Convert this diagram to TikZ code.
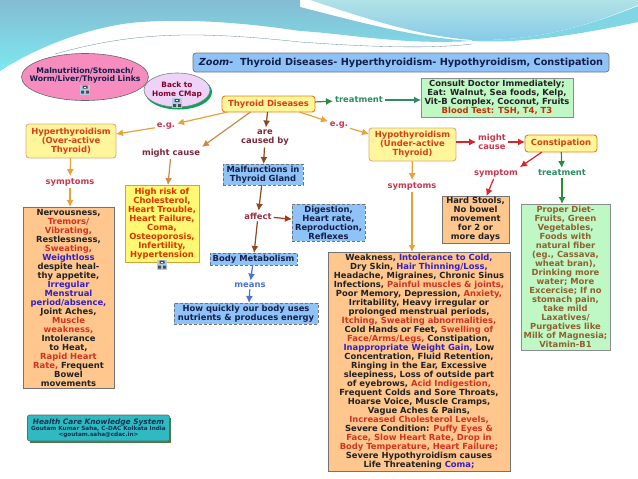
\documentclass[tikz,border=0pt]{standalone}
\usepackage{xcolor}
\usepackage{fontspec}
\setmainfont{DejaVu Sans}
\usetikzlibrary{positioning, shapes.geometric, arrows.meta}
\definecolor{bandTop}{HTML}{84BCD3}
\definecolor{bandLow}{HTML}{7DE8F0}
\definecolor{lensTop}{HTML}{B0E2E6}
\definecolor{lensLow}{HTML}{86CAE8}
\definecolor{skyFill}{HTML}{8FC3F7}
\definecolor{orangeFill}{HTML}{FFC68E}
\definecolor{greenFill}{HTML}{BFF8C4}
\definecolor{yellowFill}{HTML}{FFF59A}
\definecolor{pinkFill}{HTML}{F78DBE}
\definecolor{homeFill}{HTML}{EDD3F7}
\definecolor{tealFill}{HTML}{2FB9C0}
\definecolor{iconFill}{HTML}{B4CBE6}
\definecolor{arrowOrange}{HTML}{E9A23B}
\definecolor{arrowTan}{HTML}{CC8A4A}
\definecolor{arrowBrown}{HTML}{8C4A22}
\definecolor{arrowRed}{HTML}{D8242C}
\definecolor{arrowGreen}{HTML}{2E8B3C}
\definecolor{arrowBlue}{HTML}{4A70DC}
\definecolor{labelRed}{HTML}{C63A50}
\definecolor{labelPlum}{HTML}{7A2A3C}
\definecolor{labelGreen}{HTML}{2E8B62}
\definecolor{textRed}{HTML}{D0341F}
\definecolor{textBlue}{HTML}{3420C4}
\definecolor{textInk}{HTML}{222222}
\definecolor{textNavy}{HTML}{14204A}
\newcommand{\hot}[1]{\textcolor{textRed}{#1}}
\newcommand{\cool}[1]{\textcolor{textBlue}{#1}}
\tikzset{
    block/.style={
        draw, inner sep = 0pt, outer sep = 0pt,
        align = center,
        font = \fontsize{8.4}{9}\selectfont\bfseries
    },
    listbox/.style = {block, fill = orangeFill, draw = black!55, line width = 0.8pt, text = textInk},
    curebox/.style = {block, fill = greenFill, draw = black!45, line width = 0.8pt},
    ideabox/.style = {block, fill = skyFill, draw = black!55, densely dashed, line width = 0.5pt, text = textNavy},
    diseasebox/.style = {block, rounded corners = 3pt, fill = yellowFill, line width = 0.9pt, text = textRed!85!orange},
    linkword/.style = {font = \fontsize{8.4}{9.5}\selectfont\bfseries, align = center, inner sep = 1pt, outer sep = 1pt},
    line/.style = {-{Latex[length=7pt,width=7pt]}, line width = 1.2pt},
    iconbox/.pic = {
        \fill[iconFill] (-5,-5) rectangle (5,5);
        \fill[black!70] (-2.5,-4) rectangle (2.5,-1) (-4,1) rectangle (-1,4) (1,1) rectangle (4,4);
        \fill[white] (-1,-3) rectangle (1,-2);
    }
}
\begin{document}
\begin{tikzpicture}[x=1pt, y=-1pt]
\useasboundingbox (0,0) rectangle (638,479);

% Slide background
\shade[top color = bandTop, bottom color = bandLow] (0,0) -- (300,0) -- (300,7) .. controls (370,25) and (420,38) .. (472,41)
    .. controls (400,45) and (350,34) .. (300,31) .. controls (240,22) and (180,18) .. (130,23)
    .. controls (90,28) and (40,45) .. (0,71) -- cycle;
\shade[top color = lensTop, bottom color = lensLow] (310,0) -- (638,0) -- (638,5) .. controls (590,25) and (540,41) .. (472,40)
    .. controls (420,36) and (370,20) .. (310,0) -- cycle;
\fill[bandLow!60!bandTop] (472,40) .. controls (540,41) and (590,25) .. (638,6) -- (638,22) .. controls (590,32) and (530,44) .. (472,41) -- cycle;
\draw[bandTop!70!black, line width = 0.3pt] (55,54) .. controls (130,33) and (190,30) .. (300,42) .. controls (370,47) and (430,49) .. (472,44);

% Title and link ellipses
\node[block, rounded corners = 3pt, fill = skyFill, draw = black!55, line width = 0.7pt, minimum width = 416pt, minimum height = 19pt,
    font = \fontsize{9.7}{11}\selectfont\bfseries, text = textNavy] (title) at (401,62.5) {\textit{Zoom-} \ Thyroid Diseases- Hyperthyroidism- Hypothyroidism, Constipation};
\node[block, ellipse, fill = pinkFill, draw = black!60, line width = 0.6pt, minimum width = 127pt, minimum height = 47pt] (malnutrition) at (85,77) {};
\node[block, font = \fontsize{7.7}{8}\selectfont\bfseries, text = textNavy, draw = none] (malnutritionText) at (85,75.5) {Malnutrition/Stomach/\\Worm/Liver/Thyroid Links};
\fill[teal!70!green] (178.5,92) ellipse (33.5pt and 17.5pt);
\node[block, ellipse, fill = homeFill, draw = black!50, line width = 0.6pt, minimum width = 66pt, minimum height = 34pt] (home) at (177,90) {};
\node[block, font = \fontsize{7.4}{9}\selectfont\bfseries, text = purple!70!black, draw = none] (homeText) at (177,89.5) {Back to\\Home CMap};
\pic at (85,89.5) {iconbox};
\pic at (177,103) {iconbox};

% Blocks
\node[diseasebox, draw = orange!60!brown, minimum width = 93pt, minimum height = 16pt] (thyroid) at (268.5,104) {Thyroid Diseases};
\node[diseasebox, draw = arrowTan!70, minimum width = 90pt, minimum height = 34pt] (hyper) at (71,141) {Hyperthyroidism\\(Over-active\\Thyroid)};
\node[diseasebox, draw = arrowTan!70, minimum width = 87pt, minimum height = 33pt] (hypo) at (412.5,144.5) {Hypothyroidism\\(Under-active\\Thyroid)};
\node[diseasebox, draw = orange!60!brown, minimum width = 72pt, minimum height = 17pt] (constipation) at (561,143.5) {Constipation};
\node[curebox, minimum width = 152pt, minimum height = 39pt, text = textInk] (consult) at (497,97.5) {Consult Doctor Immediately;\\Eat: Walnut, Sea foods, Kelp,\\Vit-B Complex, Coconut, Fruits\\\textcolor{orange!45!red!80!black}{Blood Test: TSH, T4, T3}};
\node[listbox, minimum width = 91pt, minimum height = 181pt] (hyperList) at (68.5,297.5) {Nervousness,\\\hot{Tremors/}\\\hot{Vibrating,}\\Restlessness,\\\hot{Sweating,}\\\cool{Weightloss}\\despite heal-\\thy appetite,\\\cool{Irregular}\\\cool{Menstrual}\\\cool{period/absence,}\\Joint Aches,\\\hot{Muscle}\\\hot{weakness,}\\Intolerance\\to Heat,\\\hot{Rapid Heart}\\\hot{Rate,} Frequent\\Bowel\\movements};
\node[block, fill = yellow!55, draw = arrowTan!80!yellow, line width = 0.8pt, minimum width = 74pt, minimum height = 77pt, text = orange!50!red!85!black] (risk) at (162,223.5) {High risk of\\Cholesterol,\\Heart Trouble,\\Heart Failure,\\Coma,\\Osteoporosis,\\Infertility,\\Hypertension};
\pic at (162,264.5) {iconbox};
\node[ideabox, minimum width = 80pt, minimum height = 21pt] (malfunctions) at (263,174.5) {Malfunctions in\\Thyroid Gland};
\node[ideabox, minimum width = 73pt, minimum height = 37pt] (digestion) at (328.5,222.5) {Digestion,\\Heart rate,\\Reproduction,\\Reflexes};
\node[ideabox, minimum width = 87pt, minimum height = 12pt] (metabolism) at (253.5,259) {Body Metabolism};
\node[ideabox, minimum width = 144pt, minimum height = 21pt] (energy) at (246,313.5) {How quickly our body uses\\nutrients \& produces energy};
\node[listbox, minimum width = 67pt, minimum height = 47pt] (stools) at (475.5,219.5) {Hard Stools,\\No bowel\\movement\\for 2 or\\more days};
\node[curebox, minimum width = 89pt, minimum height = 146pt, text = brown!75!black] (diet) at (565.5,277) {Proper Diet-\\Fruits, Green\\Vegetables,\\Foods with\\natural fiber\\(eg., Cassava,\\wheat bran),\\Drinking more\\water; More\\Excercise; If no\\stomach pain,\\take mild\\Laxatives/\\Purgatives like\\Milk of Magnesia;\\Vitamin-B1};
\node[listbox, minimum width = 182pt, minimum height = 219pt] (hypoList) at (419,361.5) {Weakness, \cool{Intolerance to Cold,}\\Dry Skin, \cool{Hair Thinning/Loss,}\\Headache, Migraines, Chronic Sinus\\Infections, \hot{Painful muscles \& joints,}\\Poor Memory, Depression, \hot{Anxiety,}\\Irritability, Heavy irregular or\\prolonged menstrual periods,\\\hot{Itching, Sweating abnormalities,}\\Cold Hands or Feet, \hot{Swelling of}\\\hot{Face/Arms/Legs,} Constipation,\\\cool{Inappropriate Weight Gain,} Low\\Concentration, Fluid Retention,\\Ringing in the Ear, Excessive\\sleepiness, Loss of outside part\\of eyebrows, \hot{Acid Indigestion,}\\Frequent Colds and Sore Throats,\\Hoarse Voice, Muscle Cramps,\\Vague Aches \& Pains,\\\hot{Increased Cholesterol Levels,}\\Severe Condition: \hot{Puffy Eyes \&}\\\hot{Face, Slow Heart Rate, Drop in}\\\hot{Body Temperature, Heart Failure;}\\Severe Hypothyroidism causes\\Life Threatening \cool{Coma;}};
\fill[green!25!black!70] (30,418) rectangle (171,443);
\node[block, rounded corners = 2pt, fill = tealFill, draw = black!60, line width = 0.6pt, minimum width = 142pt, minimum height = 26pt, text = textNavy!80!teal, font = \fontsize{5.7}{6}\selectfont\bfseries] (credit) at (98.5,428) {{\fontsize{7.4}{8}\selectfont\itshape Health Care Knowledge System}\\Goutam Kumar Saha, C-DAC Kolkata India\\<goutam.saha@cdac.in>};

% Link words
\node[linkword, text = labelRed] (egLeft) at (166,126) {e.g.};
\node[linkword, text = labelPlum] (causeLeft) at (171,153) {might cause};
\node[linkword, text = labelRed] (symptomsLeft) at (70,182) {symptoms};
\node[linkword, text = labelPlum] (causedBy) at (265,137.5) {are\\caused by};
\node[linkword, text = labelRed!80!black] (affect) at (258,216) {affect};
\node[linkword, text = arrowBlue] (means) at (250,285) {means};
\node[linkword, text = labelGreen] (treatTop) at (359,100) {treatment};
\node[linkword, text = labelRed] (egRight) at (339,125) {e.g.};
\node[linkword, text = labelRed] (causeRight) at (492,142) {might\\cause};
\node[linkword, text = labelRed] (symptomsRight) at (412,186) {symptoms};
\node[linkword, text = labelRed] (symptomOne) at (496,173) {symptom};
\node[linkword, text = labelGreen] (treatLow) at (562,173) {treatment};

% Lines
\draw[line, draw = arrowOrange, fill = arrowOrange] ([xshift=-41pt]thyroid.south) -- (egLeft);
\draw[line, draw = arrowOrange, fill = arrowOrange] (egLeft) -- (hyper.north east |- 118,134);
\draw[line, draw = arrowOrange, fill = arrowOrange] (hyper) -- (symptomsLeft);
\draw[line, draw = arrowOrange, fill = arrowOrange] (symptomsLeft) -- ([xshift=1.5pt]hyperList.north);
\draw[line, draw = arrowTan, fill = arrowTan] ([xshift=-18pt]thyroid.south) -- (causeLeft.north east);
\draw[line, draw = arrowTan, fill = arrowTan] (causeLeft) -- ([xshift=6pt]risk.north);
\draw[line, draw = arrowBrown, fill = arrowBrown] ([xshift=-1pt]thyroid.south) -- (causedBy);
\draw[line, draw = arrowBrown, fill = arrowBrown] (causedBy) -- (malfunctions);
\draw[line, draw = arrowBrown, fill = arrowBrown] (malfunctions) -- (affect);
\draw[line, draw = arrowBrown!80!red, fill = arrowBrown!80!red] (affect) -- (digestion);
\draw[line, draw = arrowBrown, fill = arrowBrown] (affect) -- (metabolism);
\draw[line, draw = arrowBlue, fill = arrowBlue] (metabolism) -- (means);
\draw[line, draw = arrowBlue, fill = arrowBlue] (means) -- ([xshift=3pt]energy.north);
\draw[line, draw = arrowOrange, fill = arrowOrange] ([xshift=31pt]thyroid.south) -- (egRight);
\draw[line, draw = arrowOrange, fill = arrowOrange] (egRight) -- (hypo.north west |- 369,134);
\draw[line, draw = arrowGreen, fill = arrowGreen] (thyroid) -- (treatTop);
\draw[line, draw = labelGreen, fill = labelGreen] (treatTop) -- (consult.west |- treatTop);
\draw[line, draw = arrowOrange, fill = arrowOrange] (hypo) -- (symptomsRight);
\draw[line, draw = arrowOrange, fill = arrowOrange] (symptomsRight) -- (hypoList.north -| symptomsRight);
\draw[line, draw = arrowRed, fill = arrowRed] (hypo.east |- causeRight) -- (causeRight);
\draw[line, draw = arrowRed, fill = arrowRed] (causeRight) -- (constipation.west |- causeRight);
\draw[line, draw = arrowRed, fill = arrowRed] ([xshift=-19pt]constipation.south) -- (symptomOne.north east);
\draw[line, draw = arrowRed, fill = arrowRed] (symptomOne) -- ([xshift=11pt]stools.north);
\draw[line, draw = arrowGreen, fill = arrowGreen] (constipation) -- (treatLow);
\draw[line, draw = arrowGreen, fill = arrowGreen] (treatLow) -- (diet.north -| treatLow);

\end{tikzpicture}
\end{document}
